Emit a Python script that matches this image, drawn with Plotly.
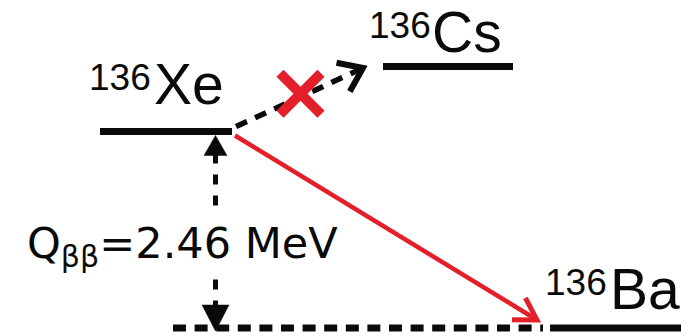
import math
import plotly.graph_objects as go

# ---- content ------------------------------------------------------------
MASS_NUMBER = "136"
NUCLIDES = ["Xe", "Cs", "Ba"]          # parent, forbidden intermediate, daughter
Q_VALUE_MEV = 2.46
Q_LABEL = "Q<sub>ββ</sub>=%.2f MeV" % Q_VALUE_MEV

# ---- geometry (figure pixel frame, y grows downward) -------------------------
W, H = 696, 336
LEVELS = {
    "Xe": dict(x0=100, x1=232, y=131.5),
    "Cs": dict(x0=383, x1=513, y=66.5),
    "Ba": dict(x0=550, x1=681, y=328.0),
}
LEVEL_WIDTH = 7
GROUND_DASH_X0 = 173          # dashed extension of the daughter level
LABEL_POS = {                  # (superscript left, symbol left, cap middle of symbol)
    "Xe": (89, 154, 84),
    "Cs": (369, 432, 32),
    "Ba": (545, 610, 289),
}
SUP_RAISE = 7
Q_AXIS_X = 215.5
Q_TEXT_POS = (23, 246)

BLACK = "#0a0a0a"
RED = "#e3202a"
FONT = "Liberation Sans, Arial, Helvetica, sans-serif"
Q_FONT = "DejaVu Sans, Liberation Sans, sans-serif"
SYM_SIZE = 57
SUP_SIZE = 37
Q_SIZE = 43

shapes = []
annotations = []


def seg(x0, y0, x1, y1, color, width, dash="solid"):
    shapes.append(dict(type="line", xref="x", yref="y", x0=x0, y0=y0, x1=x1, y1=y1,
                       line=dict(color=color, width=width, dash=dash), layer="above"))


def unit(dx, dy):
    n = math.hypot(dx, dy)
    return dx / n, dy / n


def chevron(tip, frm, arm, half_angle, color, width):
    """Open V arrowhead at `tip`, for a line coming from `frm`."""
    bx, by = unit(frm[0] - tip[0], frm[1] - tip[1])
    pts = []
    for s in (1, -1):
        a = math.radians(half_angle) * s
        rx = bx * math.cos(a) - by * math.sin(a)
        ry = bx * math.sin(a) + by * math.cos(a)
        pts.append((tip[0] + arm * rx, tip[1] + arm * ry))
    path = "M%.2f,%.2f L%.2f,%.2f L%.2f,%.2f" % (pts[0][0], pts[0][1], tip[0], tip[1],
                                                pts[1][0], pts[1][1])
    shapes.append(dict(type="path", xref="x", yref="y", path=path,
                       line=dict(color=color, width=width), layer="above"))


def triangle(tip, frm, length, half_width, color):
    """Filled arrowhead at `tip`, for a line coming from `frm`."""
    bx, by = unit(frm[0] - tip[0], frm[1] - tip[1])
    cx, cy = tip[0] + bx * length, tip[1] + by * length
    px, py = -by, bx
    path = "M%.2f,%.2f L%.2f,%.2f L%.2f,%.2f Z" % (
        tip[0], tip[1], cx + px * half_width, cy + py * half_width,
        cx - px * half_width, cy - py * half_width)
    shapes.append(dict(type="path", xref="x", yref="y", path=path,
                       fillcolor=color, line=dict(color=color, width=0.5), layer="above"))


# ---- energy levels ----------------------------------------------------------
for name in NUCLIDES:
    lv = LEVELS[name]
    seg(lv["x0"], lv["y"], lv["x1"], lv["y"], BLACK, LEVEL_WIDTH)

parent, inter, daughter = (LEVELS[n] for n in NUCLIDES)
seg(GROUND_DASH_X0, daughter["y"], daughter["x0"] - 7, daughter["y"], BLACK, LEVEL_WIDTH,
    dash="13px,8.6px")

# ---- forbidden single-beta branch (dashed, crossed out) ------------------------
sb_start = (parent["x1"] + 4, parent["y"] - 5)
sb_tip = (inter["x0"] - 20, inter["y"] + 1.5)
seg(sb_start[0], sb_start[1], sb_tip[0] - 2, sb_tip[1] + 1, BLACK, 5.5, dash="12px,9px")
chevron(sb_tip, sb_start, 27, 36, BLACK, 6)

cx = (sb_start[0] + sb_tip[0]) / 2 + 1
cy = (sb_start[1] + sb_tip[1]) / 2 - 3.5
for s in (1, -1):
    seg(cx - 20.5, cy - 20.5 * s, cx + 20.5, cy + 20.5 * s, RED, 10)

# ---- double-beta decay (red arrow) -------------------------------------------
db_start = (parent["x1"] + 3, parent["y"] + 4)
db_tip = (daughter["x0"] - 13, daughter["y"] - 8)
seg(db_start[0], db_start[1], db_tip[0] - 1.5, db_tip[1] - 1, RED, 4.5)
chevron(db_tip, db_start, 25, 31, RED, 5)

# ---- Q-value arrow ------------------------------------------------------------
top_tip = (Q_AXIS_X, parent["y"] + LEVEL_WIDTH / 2 + 0.5)
bot_tip = (Q_AXIS_X, daughter["y"] + 3)
seg(Q_AXIS_X, top_tip[1] + 18, Q_AXIS_X, bot_tip[1] - 24, BLACK, 5, dash="10px,11px")
triangle(top_tip, bot_tip, 20, 11.5, BLACK)
triangle(bot_tip, top_tip, 26, 13.5, BLACK)

# ---- labels -------------------------------------------------------------------
for name in NUCLIDES:
    sx, mx, my = LABEL_POS[name]
    annotations.append(dict(x=sx, y=my - SUP_RAISE, xref="x", yref="y", text=MASS_NUMBER,
                            showarrow=False, xanchor="left", yanchor="middle", borderpad=0,
                            borderwidth=0,
                            font=dict(family=FONT, size=SUP_SIZE, color=BLACK)))
    annotations.append(dict(x=mx, y=my, xref="x", yref="y", text=name,
                            showarrow=False, xanchor="left", yanchor="middle", borderpad=0,
                            borderwidth=0,
                            font=dict(family=FONT, size=SYM_SIZE, color=BLACK)))

annotations.append(dict(x=Q_TEXT_POS[0], y=Q_TEXT_POS[1], xref="x", yref="y", text=Q_LABEL,
                        showarrow=False, xanchor="left", yanchor="middle", borderpad=4,
                        borderwidth=0, bgcolor="white",
                        font=dict(family=Q_FONT, size=Q_SIZE, color=BLACK)))

fig = go.Figure(go.Scatter(x=[0, W], y=[0, H], mode="markers",
                           marker=dict(opacity=0), hoverinfo="skip", showlegend=False))
fig.update_layout(
    width=W, height=H,
    margin=dict(l=0, r=0, t=0, b=0),
    paper_bgcolor="white", plot_bgcolor="white",
    xaxis=dict(range=[0, W], visible=False, fixedrange=True),
    yaxis=dict(range=[H, 0], visible=False, fixedrange=True),
    shapes=shapes, annotations=annotations,
    showlegend=False,
)
fig.write_html("out.html", config=dict(displayModeBar=False))
